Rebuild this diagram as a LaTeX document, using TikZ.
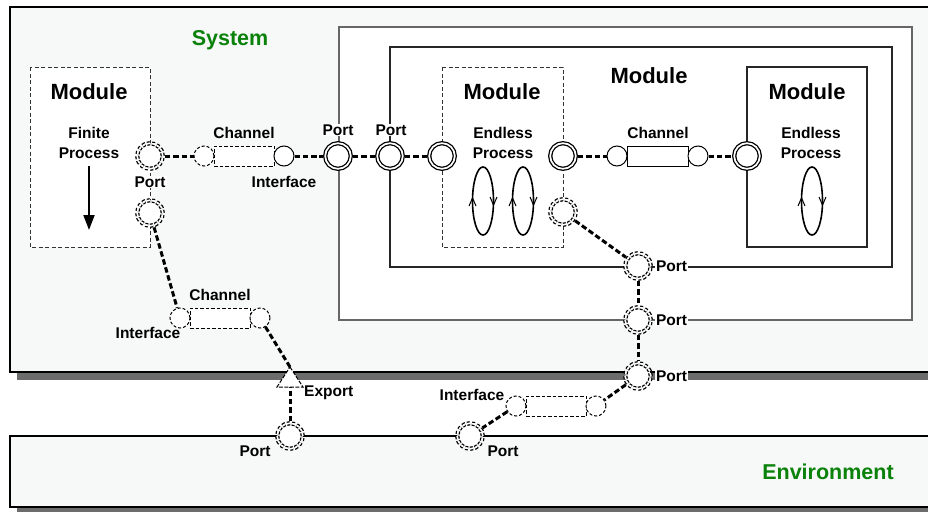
\documentclass[tikz,border=0pt]{standalone}
\usepackage{fontspec}
\setmainfont{Liberation Sans}
\usetikzlibrary{arrows.meta,positioning}
\definecolor{sysbg}{HTML}{F7F8F8}
\definecolor{shadowgray}{HTML}{6C6C6C}
\definecolor{titlegreen}{HTML}{0A820A}
\begin{document}
\begin{tikzpicture}[x=1pt,y=-1pt,
  portS/.style={circle,draw,fill=white,line width=1.3pt,double,double distance=1.7pt,minimum size=25.6pt,inner sep=0pt,outer sep=2.15pt},
  portD/.style={portS,dash pattern=on 3pt off 2pt},
  ifc/.style={circle,draw,fill=white,line width=1pt,minimum size=20pt,inner sep=0pt},
  ifcD/.style={ifc,dash pattern=on 3pt off 2pt},
  chbox/.style={rectangle,draw,fill=white,line width=1pt,minimum height=20pt,inner sep=0pt},
  chboxD/.style={chbox,dash pattern=on 3.5pt off 2pt},
  conn/.style={line width=3pt,dash pattern=on 5.5pt off 2.8pt},
  lbl/.style={font=\bfseries\fontsize{15.5}{20}\selectfont,inner sep=1pt,align=center},
  lblw/.style={lbl,fill=white},
  modlbl/.style={font=\bfseries\fontsize{22}{26}\selectfont},
  ttl/.style={font=\bfseries\fontsize{21.5}{25}\selectfont,text=titlegreen},
  modD/.style={draw=black!80,fill=white,line width=0.9pt,dash pattern=on 4pt off 2.5pt},
  modS/.style={draw=black!85,fill=white,line width=1.2pt},
  loopline/.style={line width=1.6pt},
  chev/.style={line width=1pt},
]
\useasboundingbox (0,0) rectangle (928,511);
% system and environment with shadows
\fill[shadowgray] (17,13) rectangle (960,380);
\draw[line width=2pt,fill=sysbg] (10,7) rectangle (950,372);
\fill[shadowgray] (17,442) rectangle (960,515);
\draw[line width=2pt,fill=sysbg] (10,436) rectangle (950,507);
\node[ttl] (systitle) at (230,40) {System};
\node[ttl] (envtitle) at (828,472) {Environment};
% outer and inner modules
\draw[draw=black!60,fill=white,line width=1.2pt] (339,27) rectangle (912,320);
\draw[modS] (390,47) rectangle (892,267);
\node[modlbl] (mInner) at (649,76) {Module};
% left finite module
\draw[modD] (30,67) rectangle (150,247);
\node[modlbl] (mLeft) at (89,92) {Module};
\node[lbl] (finite) at (89,143) {Finite\\Process};
\draw[line width=2pt,-{Triangle[length=15pt,width=11pt]}] (89,166) -- (89,230);
% endless dashed module
\draw[modD] (442,67) rectangle (563,247);
\node[modlbl] (mMid) at (502,92) {Module};
\node[lbl] (endless1) at (503,143) {Endless\\Process};
% right module
\draw[modS] (747,67) rectangle (867,247);
\node[modlbl] (mRight) at (807,92) {Module};
\node[lbl] (endless2) at (811,143) {Endless\\Process};
% loops
\foreach \cx in {483,523,812}{
  \draw[loopline] (\cx,201) ellipse (10.5 and 34);
  \draw[chev] (\cx-14,206) -- (\cx-10.5,198) -- (\cx-7,206);
  \draw[chev] (\cx+7,197) -- (\cx+10.5,205) -- (\cx+14,197);
}
% top channel row
\node[portD] (P1) at (150,156) {};
\node[chboxD,minimum width=60pt] (c1) at (244,156) {};
\node[ifcD] (c1a) at (204,156) {};
\node[ifc] (c1b) at (284,156) {};
\node[lbl] (c1lbl) at (244,133) {Channel};
\node[lbl] (c1if) at (284,182) {Interface};
\node[lblw] (P1lbl) at (150,182) {Port};
\node[portS] (P2) at (338,156) {};
\node[lblw] (P2lbl) at (338,130) {Port};
\node[portS] (P3) at (390,156) {};
\node[lblw] (P3lbl) at (391,130) {Port};
\node[portS] (P4) at (442,156) {};
\node[portS] (P5) at (563,156) {};
\node[chbox,minimum width=61pt] (c2) at (657.5,156) {};
\node[ifc] (c2a) at (617,156) {};
\node[ifc] (c2b) at (698,156) {};
\node[lbl] (c2lbl) at (658,133) {Channel};
\node[portS] (P6) at (747,156) {};
% lower left
\node[portD] (P7) at (150,213) {};
\node[chboxD,minimum width=60pt] (c3) at (220,318) {};
\node[ifcD] (c3a) at (180,318) {};
\node[ifcD] (c3b) at (260,318) {};
\node[lbl] (c3lbl) at (220,295) {Channel};
\node[lbl] (c3if) at (148,333) {Interface};
% environment ports
\node[portD] (E1) at (290,436) {};
\node[lbl] (E1lbl) at (255,451) {Port};
\node[portD] (E2) at (470,436) {};
\node[lbl] (E2lbl) at (503,451) {Port};
% right chain
\node[portD] (P8) at (563,212) {};
\node[portD] (P9) at (638,266) {};
\node[portD] (P10) at (638,320) {};
\node[portD] (P11) at (638,376) {};
\node[lblw,right=2pt of P9] (P9lbl) {Port};
\node[lblw,right=2pt of P10] (P10lbl) {Port};
\node[lblw,right=2pt of P11] (P11lbl) {Port};
\node[chboxD,minimum width=60pt] (c4) at (556,406) {};
\node[ifcD] (c4a) at (516,406) {};
\node[ifcD] (c4b) at (596,406) {};
\node[lbl] (c4if) at (472,395) {Interface};
% export
\coordinate (exptip) at (290,367);
\coordinate (expbase) at (290,387);
\node[lbl,anchor=west] (explbl) at (303,393) {Export};
% connectors
\draw[conn] (P1) -- (c1a);
\draw[conn] (c1b) -- (P2);
\draw[conn] (P2) -- (P3);
\draw[conn] (P3) -- (P4);
\draw[conn] (P5) -- (c2a);
\draw[conn] (c2b) -- (P6);
\draw[conn] (P7) -- (c3a);
\draw[conn] (c3b) -- (exptip);
\draw[conn] (E1) -- (expbase);
\draw[conn] (P8) -- (P9);
\draw[conn] (P9) -- (P10);
\draw[conn] (P10) -- (P11);
\draw[conn] (P11) -- (c4b);
\draw[conn] (c4a) -- (E2);
% export triangle
\draw[fill=white,line width=1pt,dash pattern=on 4pt off 1.5pt] (exptip) -- ++(13,20) -- ++(-26,0) -- cycle;
\end{tikzpicture}
\end{document}
